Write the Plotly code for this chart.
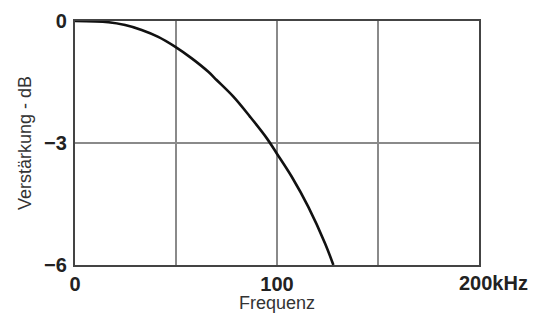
import plotly.graph_objects as go

freq_khz = [0, 16.5, 24.8, 33.0, 41.2, 49.5, 57.8, 66.0, 70.1, 78.4, 86.6, 94.9, 99.8, 107.3, 115.5, 123.8, 127.9]
gain_db = [0, -0.03, -0.10, -0.22, -0.39, -0.63, -0.92, -1.25, -1.45, -1.86, -2.35, -2.88, -3.25, -3.83, -4.57, -5.47, -6.0]

x_ticks = [0, 50, 100, 150, 200]
x_ticktext = ["0", "", "100", "", ""]
y_ticks = [0, -3, -6]
y_ticktext = ["0", "\u22123", "\u22126"]

FONT = "Liberation Sans, Arial, Helvetica, sans-serif"
TICKFONT = dict(size=20, family=FONT, color="#222222", weight="bold")
TITLEFONT = dict(size=18, family=FONT, color="#333333")

fig = go.Figure()
fig.add_trace(go.Scatter(x=freq_khz, y=gain_db, mode="lines",
                         line=dict(color="#111111", width=2.6, shape="spline", smoothing=1.0),
                         hoverinfo="skip", showlegend=False))

fig.update_layout(
    width=539, height=320,
    margin=dict(l=75, r=60, t=21, b=55),
    paper_bgcolor="white", plot_bgcolor="white",
    font=dict(family=FONT, color="#222222"),
    showlegend=False,
)
fig.update_xaxes(range=[0, 200], tickvals=x_ticks, ticktext=x_ticktext,
                 showgrid=True, gridcolor="#8a8a8a", gridwidth=1.2,
                 showline=True, mirror=True, linecolor="#444444", linewidth=2.2,
                 ticks="", zeroline=False, automargin=False,
                 tickfont=TICKFONT)
fig.update_yaxes(range=[-6, 0], tickvals=y_ticks, ticktext=y_ticktext,
                 showgrid=True, gridcolor="#8a8a8a", gridwidth=1.2,
                 showline=True, mirror=True, linecolor="#444444", linewidth=2.2,
                 ticks="", zeroline=False, automargin=False, ticklabelstandoff=2,
                 tickfont=TICKFONT)

fig.add_annotation(x=200, y=-6, xref="x", yref="y", text="200kHz", showarrow=False,
                   xanchor="left", yanchor="middle", xshift=-22, yshift=-18,
                   font=TICKFONT)
fig.add_annotation(x=0.5, y=0, xref="paper", yref="paper", text="Frequenz", showarrow=False,
                   xanchor="center", yanchor="middle", yshift=-38, font=TITLEFONT)
fig.add_annotation(x=0, y=0.5, xref="paper", yref="paper", text="Verstärkung - dB", showarrow=False,
                   xanchor="center", yanchor="middle", xshift=-50, textangle=-90, font=TITLEFONT)

fig.write_html("out.html", config={"displayModeBar": False, "staticPlot": True},
               post_script="document.body.style.margin='0';document.body.style.overflow='hidden';")
